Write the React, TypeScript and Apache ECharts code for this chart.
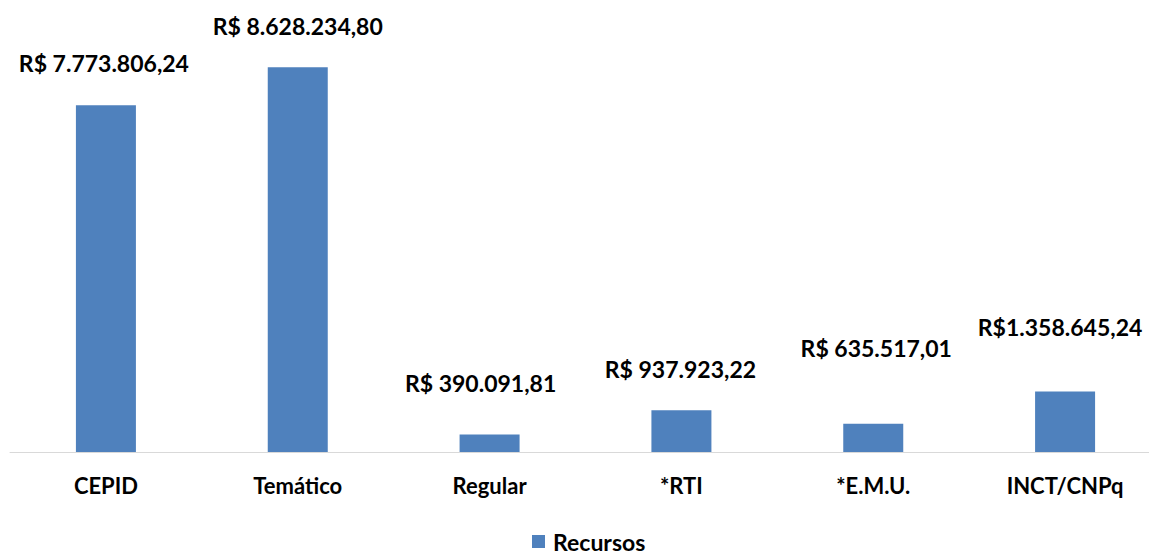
import React, { useEffect, useRef } from "react";
import * as echarts from "echarts";

const categories = ["CEPID", "Temático", "Regular", "*RTI", "*E.M.U.", "INCT/CNPq"];
const recursos = [7773806.24, 8628234.8, 390091.81, 937923.22, 635517.01, 1358645.24];
const valueLabels = [
  "R$ 7.773.806,24",
  "R$ 8.628.234,80",
  "R$ 390.091,81",
  "R$ 937.923,22",
  "R$ 635.517,01",
  "R$1.358.645,24",
];
const seriesName = "Recursos";

// manual label nudges (as placed in the original chart)
const labelNudges: [number, number][] = [
  [-2, -30],
  [0, -29],
  [-9, -40],
  [-1, -29],
  [3, -64],
  [-5, -52],
];

const FONT = "Lato";

export default function App() {
  const ref = useRef<HTMLDivElement>(null);
  useEffect(() => {
    if (!ref.current) return;
    const chart = echarts.init(ref.current, null, { renderer: "svg" });
    chart.setOption({
      animation: false,
      backgroundColor: "#ffffff",
      grid: { left: 10, top: 6, width: 1151, height: 446, containLabel: false },
      legend: {
        data: [seriesName],
        left: 532,
        top: 530,
        padding: 0,
        icon: "rect",
        itemWidth: 13,
        itemHeight: 13,
        itemGap: 8,
        textStyle: {
          fontFamily: FONT,
          fontWeight: "bold",
          fontSize: 23,
          color: "#000",
          padding: [0, 0, 0, 3],
        },
      },
      xAxis: {
        type: "category",
        data: categories,
        axisLine: { lineStyle: { color: "#D9D9D9", width: 1 } },
        axisTick: { show: false },
        axisLabel: {
          margin: 22,
          fontFamily: FONT,
          fontWeight: "bold",
          fontSize: 22,
          color: "#000",
          interval: 0,
        },
      },
      yAxis: {
        type: "value",
        min: 0,
        max: 10000000,
        show: false,
        splitLine: { show: false },
      },
      series: [
        {
          name: seriesName,
          type: "bar",
          barWidth: 60,
          itemStyle: { color: "#4F81BD" },
          data: recursos.map((v, i) => ({
            value: v,
            label: {
              show: true,
              position: "top",
              distance: 0,
              offset: labelNudges[i],
              formatter: valueLabels[i],
              fontFamily: FONT,
              fontWeight: "bold",
              fontSize: 23,
              lineHeight: 24,
              color: "#000",
            },
          })),
        },
      ],
    });
    return () => chart.dispose();
  }, []);
  return (
    <div
      style={{
        position: "fixed",
        left: 0,
        top: 0,
        width: 1149,
        height: 554,
        overflow: "hidden",
        background: "#fff",
      }}
    >
      <div ref={ref} style={{ width: 1172, height: 554 }} />
    </div>
  );
}
